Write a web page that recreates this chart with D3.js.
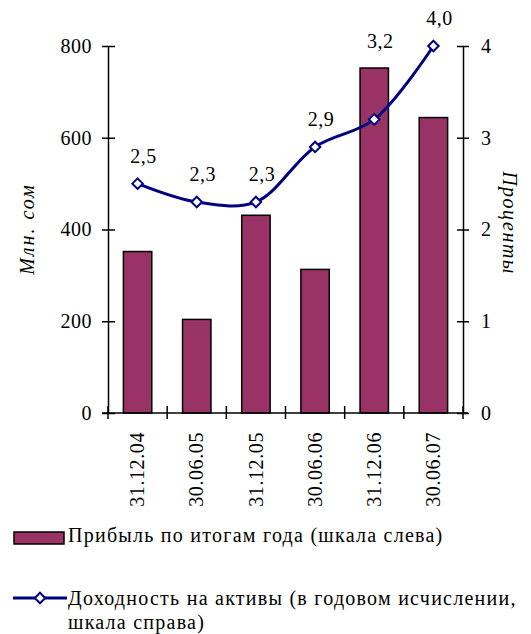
<!DOCTYPE html>
<html>
<head>
<meta charset="utf-8">
<title>Прибыль и доходность на активы</title>
<style>
  body { margin: 0; background: #fff; }
</style>
</head>
<body>
<script src="https://d3js.org/d3.v7.min.js"></script>
<script>
// data
const dates = ["31.12.04", "30.06.05", "31.12.05", "30.06.06", "31.12.06", "30.06.07"];
const profit = [352, 204, 431, 313, 752, 644];          // млн. сом, left scale
const roa = [2.5, 2.3, 2.3, 2.9, 3.2, 4.0];             // проценты, right scale
const leftTicks = [0, 200, 400, 600, 800];
const rightTicks = [0, 1, 2, 3, 4];

const serif = "'Liberation Serif', Tinos, 'Times New Roman', 'DejaVu Serif', serif";
const width = 531, height = 634;
const svg = d3.select("body").append("svg")
  .attr("width", width)
  .attr("height", height)
  .attr("font-family", serif);

// comma as decimal mark
const ru = d3.formatLocale({ decimal: ",", thousands: " ", grouping: [3], currency: ["", ""] });
const fmt = ru.format(".1f");

let x = d3.scaleBand()
  .domain(dates)
  .range([108, 463])
  .paddingInner(0.52)
  .paddingOuter(0.26);

let yLeft = d3.scaleLinear().domain([0, 800]).range([413, 46]);
let yRight = d3.scaleLinear().domain([0, 4]).range([413, 46]);

// bars
svg.selectAll(".bar")
  .data(profit)
  .join("rect")
  .attr("class", "bar")
  .attr("x", (d, i) => x(dates[i]))
  .attr("y", d => yLeft(d))
  .attr("width", x.bandwidth())
  .attr("height", d => yLeft(0) - yLeft(d))
  .attr("fill", "#993366")
  .attr("stroke", "#000")
  .attr("stroke-width", 1.5);

// left axis
let gl = svg.append("g")
  .attr("transform", "translate(108,0)")
  .call(d3.axisLeft(yLeft).tickValues(leftTicks).tickSize(6).tickSizeOuter(0).tickPadding(10));
gl.selectAll(".tick line").attr("x1", -6).attr("x2", 7);

// right axis
let gr = svg.append("g")
  .attr("transform", "translate(463,0)")
  .call(d3.axisRight(yRight).tickValues(rightTicks).tickFormat(d3.format("d")).tickSize(6).tickSizeOuter(0).tickPadding(12));
gr.selectAll(".tick line").attr("x1", -6).attr("x2", 6);

[gl, gr].forEach(g => {
  g.attr("font-family", null).attr("font-size", null);
  g.select(".domain").attr("stroke", "#000").attr("stroke-width", 1.5);
  g.selectAll(".tick line").attr("stroke", "#000").attr("stroke-width", 1.5);
  g.selectAll(".tick text").style("font-size", "20px").style("font-family", serif)
    .style("letter-spacing", "0.5px").attr("fill", "#000");
});

// bottom axis: category boundary ticks + rotated labels
let bounds = dates.map(d => x(d) - (x.step() - x.bandwidth()) / 2).concat([x.range()[1]]);
svg.append("line")
  .attr("x1", 102).attr("x2", 468)
  .attr("y1", yLeft(0)).attr("y2", yLeft(0))
  .attr("stroke", "#000").attr("stroke-width", 1.5);
svg.selectAll(".xtick")
  .data(bounds)
  .join("line")
  .attr("class", "xtick")
  .attr("x1", d => d).attr("x2", d => d)
  .attr("y1", yLeft(0) - 7).attr("y2", yLeft(0) + 6)
  .attr("stroke", "#000").attr("stroke-width", 1.5);

svg.selectAll(".xlabel")
  .data(dates)
  .join("text")
  .attr("class", "xlabel")
  .attr("transform", d => `translate(${x(d) + x.bandwidth() / 2},432) rotate(-90)`)
  .attr("text-anchor", "end")
  .attr("dy", "0.33em")
  .style("font-size", "20px")
  .style("letter-spacing", "0.6px")
  .style("font-family", serif)
  .text(d => d);

// axis titles
svg.append("text")
  .attr("transform", "translate(27,229) rotate(-90)")
  .attr("text-anchor", "middle")
  .attr("dy", "0.35em")
  .style("font-size", "20px")
  .style("font-style", "italic")
  .style("letter-spacing", "2px")
  .style("font-family", serif)
  .text("Млн. сом");

svg.append("text")
  .attr("transform", "translate(510,223) rotate(90)")
  .attr("text-anchor", "middle")
  .attr("dy", "0.35em")
  .style("font-size", "20px")
  .style("font-style", "italic")
  .style("letter-spacing", "1.5px")
  .style("font-family", serif)
  .text("Проценты");

// smoothed line
let cx = (d, i) => x(dates[i]) + x.bandwidth() / 2;
let line = d3.line()
  .x(cx)
  .y(d => yRight(d))
  .curve(d3.curveCatmullRom.alpha(0.5));

svg.append("path")
  .datum(roa)
  .attr("d", line)
  .attr("fill", "none")
  .attr("stroke", "#000080")
  .attr("stroke-width", 3);

const diamond = d3.symbol().type(d3.symbolDiamond2).size(70);

svg.selectAll(".marker")
  .data(roa)
  .join("path")
  .attr("class", "marker")
  .attr("transform", (d, i) => `translate(${cx(d, i)},${yRight(d)})`)
  .attr("d", diamond)
  .attr("fill", "#fff")
  .attr("stroke", "#000080")
  .attr("stroke-width", 2);

// the 31.12.06 label was lifted above its bar in the original
const lifted = { "31.12.06": 50 };
svg.selectAll(".vlabel")
  .data(roa)
  .join("text")
  .attr("class", "vlabel")
  .attr("x", (d, i) => cx(d, i) + 6)
  .attr("y", (d, i) => yRight(d) - 21 - (lifted[dates[i]] || 0))
  .attr("text-anchor", "middle")
  .style("font-size", "20px")
  .style("letter-spacing", "0.5px")
  .style("font-family", serif)
  .text(d => fmt(d));

// legend
let lg = svg.append("g")
  .style("font-size", "20px")
  .style("letter-spacing", "1.25px")
  .style("font-family", serif);
lg.append("rect")
  .attr("x", 14).attr("y", 532)
  .attr("width", 50).attr("height", 12)
  .attr("fill", "#993366")
  .attr("stroke", "#000")
  .attr("stroke-width", 1.5);
lg.append("text")
  .attr("x", 68).attr("y", 542)
  .text("Прибыль по итогам года (шкала слева)");

lg.append("line")
  .attr("x1", 13).attr("x2", 67)
  .attr("y1", 598).attr("y2", 598)
  .attr("stroke", "#000080")
  .attr("stroke-width", 3);
lg.append("path")
  .attr("transform", "translate(40,598)")
  .attr("d", diamond)
  .attr("fill", "#fff")
  .attr("stroke", "#000080")
  .attr("stroke-width", 2);
let t2 = lg.append("text")
  .attr("x", 68).attr("y", 605);
t2.append("tspan").attr("x", 68).text("Доходность на активы (в годовом исчислении,");
t2.append("tspan").attr("x", 68).attr("dy", 24).text("шкала справа)");
</script>
</body>
</html>
